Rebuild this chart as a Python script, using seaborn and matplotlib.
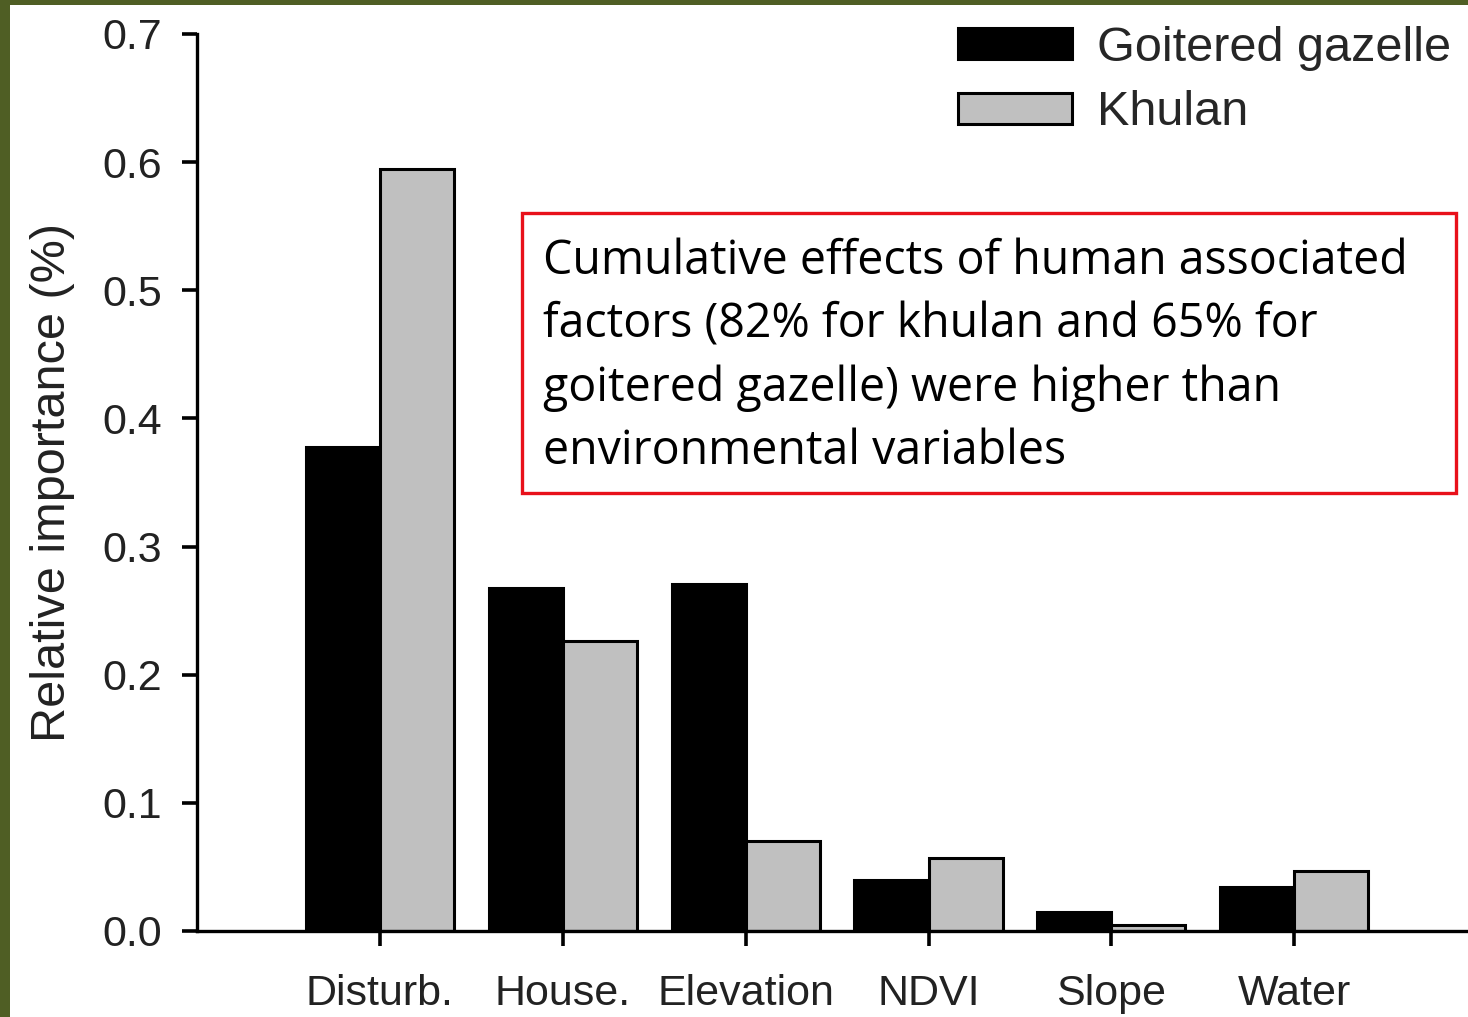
import matplotlib
matplotlib.use("Agg")
import matplotlib.pyplot as plt
import matplotlib.patches as mpatches
import matplotlib.ticker as mticker
import pandas as pd
import seaborn as sns

factors = ["Disturb.", "House.", "Elevation", "NDVI", "Slope", "Water"]
gazelle = [0.378, 0.268, 0.271, 0.040, 0.015, 0.034]
khulan = [0.595, 0.226, 0.070, 0.057, 0.005, 0.047]
species = ["Goitered gazelle", "Khulan"]

data = pd.DataFrame({
    "factor": factors * 2,
    "value": gazelle + khulan,
    "species": [species[0]] * len(factors) + [species[1]] * len(factors),
})

sns.set_style("ticks")
plt.rcParams["font.family"] = ["Liberation Sans", "DejaVu Sans"]

fig = plt.figure(figsize=(14.68, 10.17), dpi=100)
ax = fig.add_axes([197 / 1468, 86 / 1017, 1 - 197 / 1468, 897 / 1017])

sns.barplot(data=data, x="factor", y="value", hue="species",
            palette=["black", "#c0c0c0"], saturation=1, width=0.81,
            edgecolor="black", linewidth=2.2, ax=ax, legend=False)

ax.set_ylim(0, 0.7)
ax.set_xlim(-1.0, 5.95)
ax.yaxis.set_major_locator(mticker.MultipleLocator(0.1))
ax.yaxis.set_major_formatter(mticker.FormatStrFormatter("%.1f"))
ax.set_xlabel("")
ax.set_ylabel("Relative importance (%)", fontsize=35, labelpad=20, color="#222222")
ax.tick_params(axis="both", labelsize=31, width=2.6, length=11, pad=14,
               colors="black", labelcolor="#222222")
ax.tick_params(axis="x", pad=20)
for s in ["top", "right"]:
    ax.spines[s].set_visible(False)
for s in ["left", "bottom"]:
    ax.spines[s].set_linewidth(2.4)
    ax.spines[s].set_color("black")

handles = [mpatches.Patch(facecolor="black", edgecolor="black", linewidth=2.2),
           mpatches.Patch(facecolor="#c0c0c0", edgecolor="black", linewidth=2.2)]
fig.legend(handles, species, loc="upper left", bbox_to_anchor=(958 / 1468, 1 - 26 / 1017),
           frameon=False, fontsize=35, handlelength=2.35, handleheight=0.6,
           handletextpad=0.5, labelspacing=0.4, borderpad=0, borderaxespad=0)

# annotation box
fig.add_artist(mpatches.Rectangle((522 / 1468, 1 - 493 / 1017), 934 / 1468, 280 / 1017,
                                  transform=fig.transFigure, fill=False,
                                  edgecolor="#e8101a", linewidth=2.4))
fig.text(543 / 1468, 1 - 238 / 1017,
         "Cumulative effects of human associated\nfactors (82% for khulan and 65% for\n"
         "goitered gazelle) were higher than\nenvironmental variables",
         fontsize=33.5, family=["Open Sans", "DejaVu Sans"], va="top", ha="left",
         linespacing=1.43, color="black")

# green frame
fig.add_artist(mpatches.Rectangle((0, 0), 10 / 1468, 1, transform=fig.transFigure,
                                  color="#4f5e24", linewidth=0))
fig.add_artist(mpatches.Rectangle((0, 1 - 5 / 1017), 1, 5 / 1017, transform=fig.transFigure,
                                  color="#4f5e24", linewidth=0))

fig.savefig("out.png", dpi=100)
